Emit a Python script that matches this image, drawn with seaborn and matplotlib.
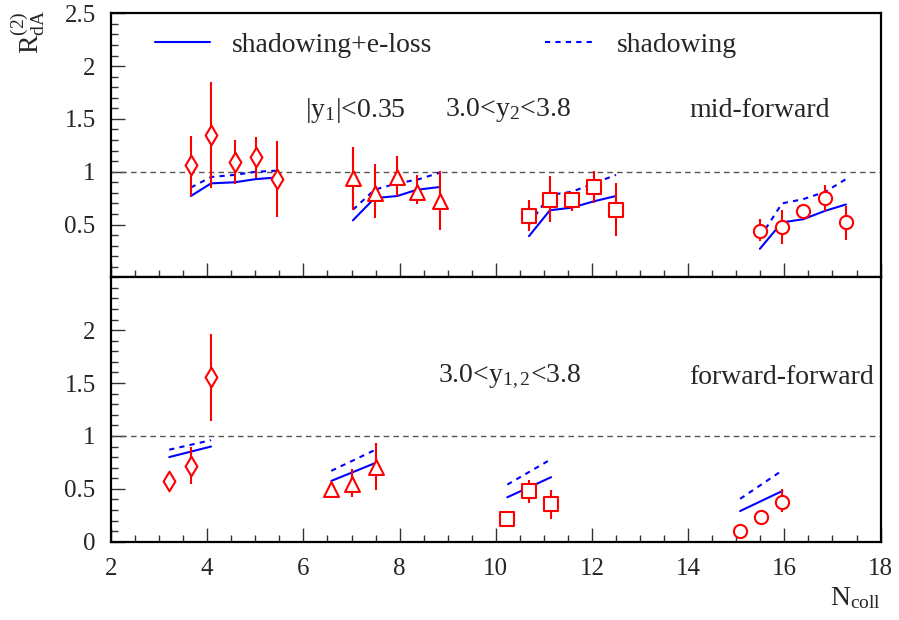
import numpy as np
import pandas as pd
import matplotlib
matplotlib.use("Agg")
import matplotlib.pyplot as plt
import seaborn as sns
from matplotlib.lines import Line2D
from matplotlib.ticker import MultipleLocator

# ---------------- data ----------------
# mid-forward (top panel)
top_group = ["a"] * 5 + ["b"] * 5 + ["c"] * 5 + ["d"] * 5
top_x = [3.66, 4.08, 4.57, 5.01, 5.45,
         7.03, 7.48, 7.95, 8.37, 8.83,
         10.69, 11.125, 11.58, 12.04, 12.5,
         15.49, 15.95, 16.39, 16.85, 17.28]
top_y = [1.06, 1.35, 1.09, 1.135, 0.93,
         0.94, 0.80, 0.95, 0.81, 0.72,
         0.58, 0.736, 0.736, 0.855, 0.635,
         0.44, 0.48, 0.63, 0.75, 0.52]
top_hi = [1.34, 1.85, 1.30, 1.33, 1.29,
          1.23, 1.07, 1.15, 0.97, 1.01,
          0.73, 0.96, 0.80, 1.01, 0.89,
          0.55, 0.64, 0.66, 0.87, 0.68]
top_lo = [0.77, 0.85, 0.88, 0.94, 0.57,
          0.64, 0.56, 0.77, 0.69, 0.45,
          0.44, 0.52, 0.63, 0.70, 0.39,
          0.34, 0.32, 0.60, 0.63, 0.35]
top_eloss = [0.77, 0.89, 0.90, 0.93, 0.946,
             0.54, 0.75, 0.77, 0.83, 0.855,
             0.39, 0.635, 0.66, 0.72, 0.77,
             0.27, 0.52, 0.55, 0.63, 0.69]
top_shadow = [0.85, 0.95, 0.97, 1.00, 1.01,
              0.64, 0.83, 0.89, 0.925, 0.99,
              0.50, 0.78, 0.81, 0.89, 0.97,
              0.375, 0.70, 0.74, 0.81, 0.93]

# forward-forward (bottom panel)
bot_group = ["a"] * 3 + ["b"] * 3 + ["c"] * 3 + ["d"] * 3
bot_x = [3.21, 3.66, 4.08,
         6.58, 7.01, 7.50,
         10.24, 10.69, 11.15,
         15.08, 15.51, 15.96]
bot_y = [0.57, 0.72, 1.555,
         0.50, 0.55, 0.71,
         0.21, 0.476, 0.36,
         0.10, 0.23, 0.38]
bot_hi = [0.57, 0.90, 1.96,
          0.50, 0.69, 0.93,
          0.21, 0.58, 0.49,
          0.10, 0.23, 0.50]
bot_lo = [0.57, 0.55, 1.145,
          0.50, 0.42, 0.49,
          0.21, 0.365, 0.215,
          0.10, 0.23, 0.28]
bot_curve_group = ["a", "a", "b", "b", "c", "c", "d", "d"]
bot_curve_x = [3.21, 4.08, 6.58, 7.50, 10.24, 11.15, 15.08, 15.96]
bot_eloss = [0.80, 0.90, 0.575, 0.745, 0.42, 0.61, 0.29, 0.48]
bot_shadow = [0.87, 0.96, 0.67, 0.87, 0.54, 0.78, 0.405, 0.675]

group_markers = {"a": "d", "b": "^", "c": "s", "d": "o"}
group_sizes = {"a": 100, "b": 115, "c": 90, "d": 90}

top_pts = pd.DataFrame(dict(group=top_group, x=top_x, y=top_y, hi=top_hi, lo=top_lo))
top_cur = pd.DataFrame(dict(group=top_group, x=top_x, eloss=top_eloss, shadow=top_shadow))
bot_pts = pd.DataFrame(dict(group=bot_group, x=bot_x, y=bot_y, hi=bot_hi, lo=bot_lo))
bot_cur = pd.DataFrame(dict(group=bot_curve_group, x=bot_curve_x, eloss=bot_eloss, shadow=bot_shadow))

# ---------------- style ----------------
sns.set_theme(style="ticks")
plt.rcParams["font.family"] = ["Liberation Serif", "DejaVu Serif"]
plt.rcParams["mathtext.fontset"] = "custom"
plt.rcParams["mathtext.rm"] = "Liberation Serif"
plt.rcParams["mathtext.it"] = "Liberation Serif:italic"
plt.rcParams["mathtext.default"] = "rm"

RED = "#ff0000"
BLUE = "#0000ff"
FS = 20
TFS = 18

fig = plt.figure(figsize=(8.99, 6.2), dpi=100)
ax_top = fig.add_axes([0.1235, 0.5527, 0.856, 0.4258])
ax_bot = fig.add_axes([0.1235, 0.1263, 0.856, 0.4264])


def draw_panel(ax, pts, cur):
    ax.axhline(1.0, color="#555555", lw=1.0, ls=(0, (4, 3)), zorder=1)
    for g, sub in cur.groupby("group"):
        sns.lineplot(data=sub, x="x", y="eloss", color=BLUE, lw=1.5, sort=False,
                     estimator=None, ax=ax, zorder=2, legend=False)
        sns.lineplot(data=sub, x="x", y="shadow", color=BLUE, lw=1.5, sort=False,
                     estimator=None, ax=ax, zorder=2, legend=False,
                     linestyle=(0, (2.5, 2.5)))
    for g, sub in pts.groupby("group"):
        ax.vlines(sub["x"], sub["lo"], sub["hi"], color=RED, lw=1.5, zorder=3)
        sns.scatterplot(data=sub, x="x", y="y", marker=group_markers[g],
                        s=group_sizes[g], facecolor="white", edgecolor=RED,
                        linewidth=1.5, zorder=4, ax=ax, legend=False)
    ax.set_xlim(2, 18)
    ax.set_ylim(0, 2.5)
    ax.set_xlabel("")
    ax.set_ylabel("")
    ax.xaxis.set_major_locator(MultipleLocator(2))
    ax.xaxis.set_minor_locator(MultipleLocator(0.5))
    ax.yaxis.set_minor_locator(MultipleLocator(0.1))
    ax.tick_params(which="both", direction="in", top=False, right=False,
                   width=1.0, color="#333333", labelsize=TFS)
    ax.tick_params(which="major", length=10)
    ax.tick_params(which="minor", length=5)
    ax.tick_params(axis="y", pad=11)
    ax.tick_params(axis="x", pad=12)
    for sp in ax.spines.values():
        sp.set_linewidth(1.6)
        sp.set_color("black")
        sp.set_visible(True)


draw_panel(ax_top, top_pts, top_cur)
draw_panel(ax_bot, bot_pts, bot_cur)

ax_top.set_yticks([0.5, 1, 1.5, 2, 2.5])
ax_top.set_yticklabels(["0.5", "1", "1.5", "2", "2.5"])
ax_top.tick_params(axis="x", labelbottom=False)
ax_bot.set_yticks([0, 0.5, 1, 1.5, 2])
ax_bot.set_yticklabels(["0", "0.5", "1", "1.5", "2"])
ax_bot.set_xticks([2, 4, 6, 8, 10, 12, 14, 16, 18])
ax_bot.set_xticklabels(["2", "4", "6", "8", "10", "12", "14", "16", "18"])

# legends
h1 = Line2D([], [], color=BLUE, lw=1.5)
h2 = Line2D([], [], color=BLUE, lw=1.5, linestyle=(0, (2.5, 2.5)))
leg1 = ax_top.legend([h1], ["shadowing+e-loss"], loc="center left",
                     bbox_to_anchor=(155 / 899, 1 - 45 / 620), bbox_transform=fig.transFigure,
                     frameon=False, borderpad=0, borderaxespad=0, handlelength=1.98,
                     handletextpad=0.8, fontsize=FS)
ax_top.add_artist(leg1)
ax_top.legend([h2], ["shadowing"], loc="center left",
              bbox_to_anchor=(545 / 899, 1 - 45 / 620), bbox_transform=fig.transFigure,
              frameon=False, borderpad=0, borderaxespad=0, handlelength=1.8,
              handletextpad=0.8, fontsize=FS)

# annotations
fig.text(305 / 899, 1 - 110 / 620, r"|y$_{1}$|<0.35", fontsize=FS, ha="left", va="center")
fig.text(445 / 899, 1 - 110 / 620, r"3.0<y$_{2}$<3.8", fontsize=FS, ha="left", va="center")
fig.text(689 / 899, 1 - 110 / 620, "mid-forward", fontsize=FS, ha="left", va="center")
fig.text(438 / 899, 1 - 377 / 620, r"3.0<y$_{1,2}$<3.8", fontsize=FS, ha="left", va="center")
fig.text(689 / 899, 1 - 377 / 620, "forward-forward", fontsize=FS, ha="left", va="center")

fig.text(881 / 899, 1 - 598 / 620, r"N$_{\mathrm{coll}}$", fontsize=FS, ha="right", va="center")
fig.text(28 / 899, 1 - 10 / 620, r"R$_{\mathrm{dA}}^{(2)}$", fontsize=FS, ha="center",
         va="top", rotation=90)

fig.savefig("out.png", dpi=100)
